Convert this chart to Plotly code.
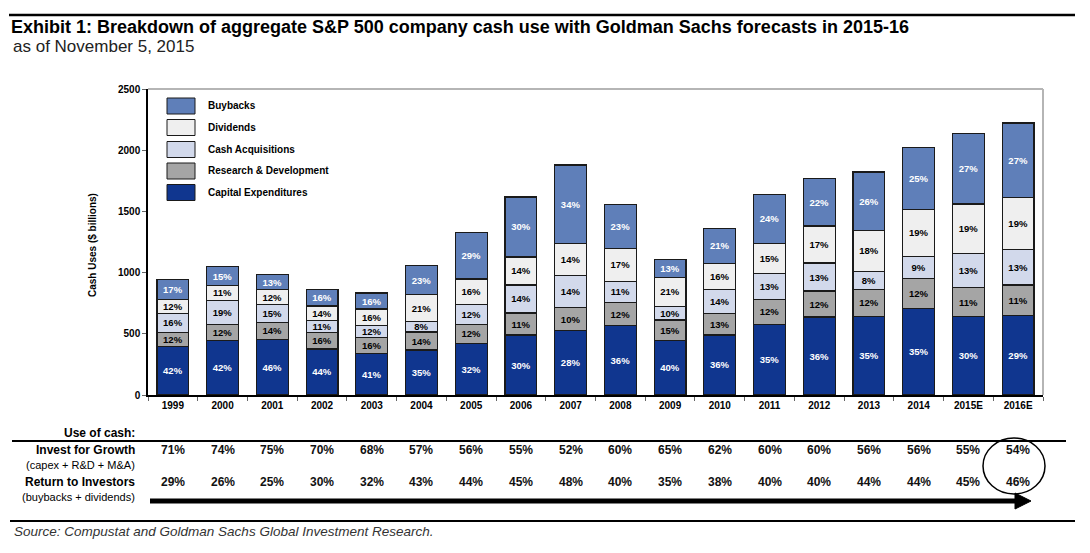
import plotly.graph_objects as go

W, H = 1090, 553

years = ["1999", "2000", "2001", "2002", "2003", "2004", "2005", "2006", "2007",
         "2008", "2009", "2010", "2011", "2012", "2013", "2014", "2015E", "2016E"]

# Segment values ($ billions)
capex = [399, 446, 454, 376, 339, 367, 421, 490, 526, 567, 446, 491, 579, 637, 644, 708, 641, 651]
rnd = [114, 127, 138, 137, 132, 147, 158, 180, 188, 189, 167, 177, 199, 212, 221, 243, 235, 247]
acq = [152, 202, 148, 94, 99, 84, 158, 229, 263, 173, 112, 191, 215, 230, 147, 182, 278, 292]
divs = [114, 117, 119, 120, 132, 220, 210, 229, 263, 268, 234, 218, 248, 301, 331, 384, 406, 426]
buyb = [162, 159, 128, 137, 132, 241, 381, 490, 639, 362, 145, 286, 397, 389, 479, 506, 576, 606]

# Percentage labels shown inside the bars
capex_pct = [42, 42, 46, 44, 41, 35, 32, 30, 28, 36, 40, 36, 35, 36, 35, 35, 30, 29]
rnd_pct = [12, 12, 14, 16, 16, 14, 12, 11, 10, 12, 15, 13, 12, 12, 12, 12, 11, 11]
acq_pct = [16, 19, 15, 11, 12, 8, 12, 14, 14, 11, 10, 14, 13, 13, 8, 9, 13, 13]
divs_pct = [12, 11, 12, 14, 16, 21, 16, 14, 14, 17, 21, 16, 15, 17, 18, 19, 19, 19]
buyb_pct = [17, 15, 13, 16, 16, 23, 29, 30, 34, 23, 13, 21, 24, 22, 26, 25, 27, 27]

# Table rows
invest_growth = [71, 74, 75, 70, 68, 57, 56, 55, 52, 60, 65, 62, 60, 60, 56, 56, 55, 54]
return_inv = [29, 26, 25, 30, 32, 43, 44, 45, 48, 40, 35, 38, 40, 40, 44, 44, 45, 46]

series_names = ["Capital Expenditures", "Research & Development", "Cash Acquisitions", "Dividends", "Buybacks"]
colors = ["#10368F", "#A5A5A5", "#D2D9EB", "#EFEFEF", "#5F7FB9"]
text_colors = ["white", "black", "black", "black", "white"]

FONT = "Liberation Sans, Arial, sans-serif"


def px(x):
    return x / W


def py(y):
    return 1 - y / H


fig = go.Figure()
for vals, pcts, name, col, tcol in zip([capex, rnd, acq, divs, buyb],
                                       [capex_pct, rnd_pct, acq_pct, divs_pct, buyb_pct],
                                       series_names, colors, text_colors):
    fig.add_trace(go.Bar(
        x=years, y=vals, name=name,
        marker=dict(color=col, line=dict(color="#1a1a1a", width=1.2)),
        text=[f"{p}%" for p in pcts],
        textposition="inside", insidetextanchor="middle", textangle=0,
        constraintext="none",
        textfont=dict(family=FONT, size=9.5, color=tcol, weight="bold"),
        showlegend=False, hoverinfo="skip",
    ))

fig.update_layout(
    template="none",
    width=W, height=H, autosize=False,
    margin=dict(l=0, r=0, t=0, b=0, pad=0),
    paper_bgcolor="white", plot_bgcolor="white",
    barmode="stack", bargap=0.36,
    font=dict(family=FONT, color="black"),
    showlegend=False,
    xaxis=dict(type="category", categoryorder="array", categoryarray=years,
               range=[-0.5, len(years) - 0.5], automargin=False,
               domain=[px(148), px(1043)], showline=True, linecolor="black", linewidth=1.5,
               ticks="outside", tickson="boundaries", ticklen=4, tickcolor="#666", tickangle=0,
               tickfont=dict(size=10, weight="bold", family=FONT), showgrid=False, zeroline=False,
               fixedrange=True),
    yaxis=dict(domain=[py(395), py(89)], range=[0, 2500], dtick=500, automargin=False,
               showline=True, linecolor="black", linewidth=1.5,
               ticks="outside", ticklen=4, tickcolor="#666",
               tickfont=dict(size=10, weight="bold", family=FONT), showgrid=False, zeroline=False,
               fixedrange=True),
    # Helper axis used only to draw the rule above the title
    xaxis2=dict(domain=[px(9), px(1075)], anchor="free", position=py(15), overlaying="x",
                showline=True, linecolor="black", linewidth=2.5, showticklabels=False,
                ticks="", showgrid=False, zeroline=False, automargin=False, fixedrange=True,
                range=[0, 1]),
)

shapes = []
annotations = []

# Gray frame on top and right of the plot area
shapes.append(dict(type="line", xref="paper", yref="paper", x0=px(148), x1=px(1043), y0=py(89), y1=py(89),
                   line=dict(color="#B5B5B5", width=2)))
shapes.append(dict(type="line", xref="paper", yref="paper", x0=px(1043), x1=px(1043), y0=py(89), y1=py(395),
                   line=dict(color="#B5B5B5", width=2)))

# Title rule (shape as well, same place)
shapes.append(dict(type="line", xref="paper", yref="paper", layer="above", x0=px(9), x1=px(1075),
                   y0=py(15), y1=py(15), line=dict(color="black", width=2.5)))

annotations.append(dict(xref="paper", yref="paper", x=px(9), y=py(27), xanchor="left", yanchor="middle",
                        text="<b>Exhibit 1: Breakdown of aggregate S&P 500 company cash use with Goldman Sachs forecasts in 2015-16</b>",
                        showarrow=False, font=dict(family=FONT, size=18, color="black")))
annotations.append(dict(xref="paper", yref="paper", x=px(11), y=py(47), xanchor="left", yanchor="middle",
                        text="as of November 5, 2015",
                        showarrow=False, font=dict(family=FONT, size=17, color="#222")))

# Y axis title
annotations.append(dict(xref="paper", yref="paper", x=px(93), y=py(245), textangle=-90,
                        xanchor="center", yanchor="middle",
                        text="<b>Cash Uses ($ billions)</b>", showarrow=False,
                        font=dict(family=FONT, size=10, color="black")))

# Manual legend
legend_rows = [("Buybacks", 4, 106), ("Dividends", 3, 127.5), ("Cash Acquisitions", 2, 149.5),
               ("Research & Development", 1, 171), ("Capital Expenditures", 0, 192.5)]
for label, idx, yc in legend_rows:
    shapes.append(dict(type="rect", xref="paper", yref="paper", x0=px(167), x1=px(195),
                       y0=py(yc + 8), y1=py(yc - 8), fillcolor=colors[idx],
                       line=dict(color="#1a1a1a", width=1)))
    annotations.append(dict(xref="paper", yref="paper", x=px(206), y=py(yc), xanchor="left", yanchor="middle",
                            text=f"<b>{label}</b>", showarrow=False,
                            font=dict(family=FONT, size=10, color="black")))

# Bottom table
shapes.append(dict(type="line", xref="paper", yref="paper", x0=px(12), x1=px(1066), y0=py(441), y1=py(441),
                   line=dict(color="black", width=2)))
shapes.append(dict(type="line", xref="paper", yref="paper", x0=px(10), x1=px(1075), y0=py(521), y1=py(521),
                   line=dict(color="black", width=2)))
# Arrow
shapes.append(dict(type="line", xref="paper", yref="paper", x0=px(150), x1=px(1018), y0=py(501), y1=py(501),
                   line=dict(color="black", width=5)))
shapes.append(dict(type="path", xref="paper", yref="paper",
                   path=f"M {px(1015)} {py(493)} L {px(1031)} {py(501)} L {px(1015)} {py(509)} Z",
                   fillcolor="black", line=dict(color="black", width=1)))
# Circle around 2016E
shapes.append(dict(type="circle", xref="paper", yref="paper", x0=px(983), x1=px(1045), y0=py(494), y1=py(438),
                   line=dict(color="black", width=1.5)))

lbl_font = dict(family=FONT, size=12, color="black")
sub_font = dict(family=FONT, size=11, color="black")
annotations.append(dict(xref="paper", yref="paper", x=px(137), y=py(433), xanchor="right", yanchor="middle",
                        text="<b>Use of cash:</b>", showarrow=False, font=lbl_font))
annotations.append(dict(xref="paper", yref="paper", x=px(137), y=py(450), xanchor="right", yanchor="middle",
                        text="<b>Invest for Growth</b>", showarrow=False, font=lbl_font))
annotations.append(dict(xref="paper", yref="paper", x=px(137), y=py(465), xanchor="right", yanchor="middle",
                        text="(capex + R&D + M&A)", showarrow=False, font=sub_font))
annotations.append(dict(xref="paper", yref="paper", x=px(137), y=py(482), xanchor="right", yanchor="middle",
                        text="<b>Return to Investors</b>", showarrow=False, font=lbl_font))
annotations.append(dict(xref="paper", yref="paper", x=px(137), y=py(497), xanchor="right", yanchor="middle",
                        text="(buybacks + dividends)", showarrow=False, font=sub_font))

num_font = dict(family=FONT, size=12, color="#111")
for i, (g, r) in enumerate(zip(invest_growth, return_inv)):
    annotations.append(dict(xref="x", yref="paper", x=i, y=py(450), yanchor="middle",
                            text=f"<b>{g}%</b>", showarrow=False, font=num_font))
    annotations.append(dict(xref="x", yref="paper", x=i, y=py(482), yanchor="middle",
                            text=f"<b>{r}%</b>", showarrow=False, font=num_font))

annotations.append(dict(xref="paper", yref="paper", x=px(12), y=py(531), xanchor="left", yanchor="middle",
                        text="<i>Source: Compustat and Goldman Sachs Global Investment Research.</i>",
                        showarrow=False, font=dict(family=FONT, size=13.5, color="#333")))

fig.update_layout(shapes=shapes, annotations=annotations)

fig.write_html("out.html", config={"displayModeBar": False},
               post_script="document.body.style.margin='0';document.body.style.overflow='hidden';")
